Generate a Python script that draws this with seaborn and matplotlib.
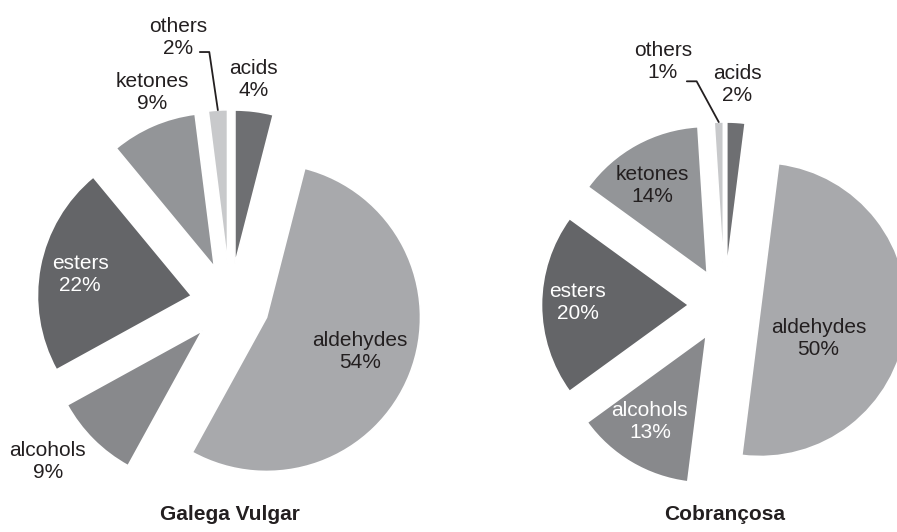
import numpy as np
import matplotlib.pyplot as plt
import seaborn as sns

sns.set_theme(style="white")
plt.rcParams["font.family"] = ["Liberation Sans", "DejaVu Sans"]

# datos
categories = ["acids", "aldehydes", "alcohols", "esters", "ketones", "others"]
galega_values = [4, 54, 9, 22, 9, 2]
cobrancosa_values = [2, 50, 13, 20, 14, 1]
titles = ["Galega Vulgar", "Cobrançosa"]

colors = ["#6e6f72", "#a8a9ac", "#88898c", "#646568", "#939598", "#c8c9cb"]

W, H = 897, 532

# estilo por tarta: centro en px, radio px, explosion, distancia/ajuste de etiquetas
layouts = [
    dict(x0=0, x1=448.5, cx=230, cy=303, R=154, explode=0.255,
         label_r=[1.46, 0.90, 1.57, 0.99, 1.46, 1.76],
         label_dang=[-1.1, -0.9, 3.9, 0.1, 3.1, -7.5],
         text_colors=["#231f20", "#231f20", "#231f20", "white", "#231f20", "#231f20"],
         leader_start=(22, -15), leader_angle=98.4),
    dict(x0=448.5, x1=897, cx=724.5, cy=305, R=147, explode=0.245,
         label_r=[1.50, 0.68, 0.94, 1.0, 0.95, 1.71],
         label_dang=[-0.35, 12.6, 2.1, 0.8, -2.3, -12.4],
         text_colors=["#231f20", "#231f20", "white", "white", "#231f20", "#231f20"],
         leader_start=(24, -20), leader_angle=118.5),
]


def dibujar_tarta(fig, values, title, lay):
    ax = fig.add_axes([lay["x0"] / W, 0, (lay["x1"] - lay["x0"]) / W, 1])
    R = lay["R"]
    ex = lay["explode"]
    ax.pie(values, colors=colors, startangle=90, counterclock=False,
           explode=[ex] * len(values), radius=1,
           wedgeprops=dict(edgecolor="white", linewidth=1.2))
    ax.set_aspect("auto")
    ax.set_xlim((lay["x0"] - lay["cx"]) / R, (lay["x1"] - lay["cx"]) / R)
    ax.set_ylim((lay["cy"] - H) / R, lay["cy"] / R)
    ax.axis("off")

    vals = np.array(values, dtype=float)
    cum = np.cumsum(vals)
    mids = 360 * (cum - vals / 2) / vals.sum()  # grados, horario desde arriba

    for i, cat in enumerate(categories):
        ang = np.radians(mids[i] + lay["label_dang"][i])
        r = lay["label_r"][i]
        pos = (r * np.sin(ang), r * np.cos(ang))
        ax.text(*pos, f"{cat}\n{values[i]}%", ha="center", va="center", fontsize=15,
                linespacing=1.2, color=lay["text_colors"][i])
        if cat == "others":
            # linea guia desde la etiqueta hasta la porcion
            m = np.radians(mids[i])
            tip = ((ex + 1.0) * np.sin(m), (ex + 1.0) * np.cos(m))
            sx, sy = lay["leader_start"]
            start = (pos[0] + sx / R, pos[1] + sy / R)
            ax.annotate("", xy=tip, xytext=start,
                        arrowprops=dict(arrowstyle="-", color="#231f20", lw=1.3,
                                        shrinkA=0, shrinkB=0,
                                        connectionstyle=f"angle,angleA=0,angleB={lay['leader_angle']},rad=0"))

    ax.text(0, -(520 - lay["cy"]) / R, title, ha="center", va="baseline",
            fontsize=15, fontweight="bold", color="#231f20")


fig = plt.figure(figsize=(W / 100, H / 100), dpi=100)
fig.patch.set_facecolor("white")
for values, title, lay in zip([galega_values, cobrancosa_values], titles, layouts):
    dibujar_tarta(fig, values, title, lay)

fig.savefig("out.png", dpi=100)
